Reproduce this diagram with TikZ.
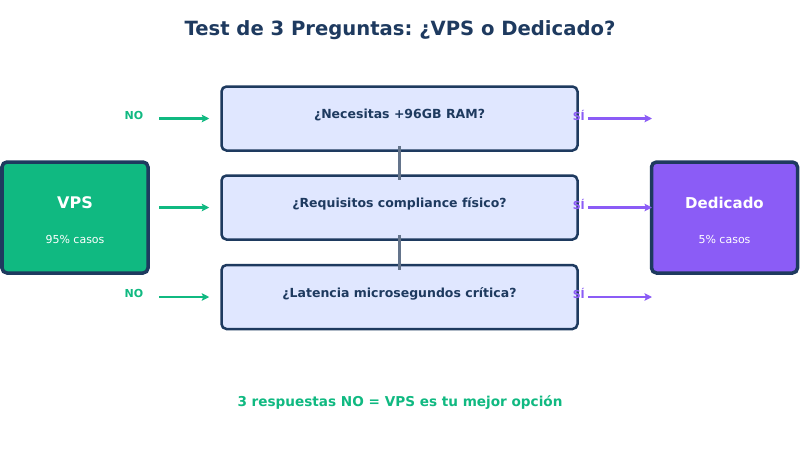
\documentclass[tikz,border=0pt]{standalone}
\usepackage{fontspec}
\setmainfont{DejaVu Sans}
\usetikzlibrary{arrows.meta}
\definecolor{navy}{HTML}{1E3A5F}
\definecolor{qfill}{HTML}{E0E7FF}
\definecolor{vpsgreen}{HTML}{10B981}
\definecolor{dedpurple}{HTML}{8B5CF6}
\definecolor{linkgray}{HTML}{64748B}
\frenchspacing

\begin{document}
\begin{tikzpicture}[x=1pt,y=-1pt,
  qbox/.style={draw=navy,line width=2.5pt,rounded corners=5pt,fill=qfill,minimum width=356pt,minimum height=64pt,inner sep=0pt},
  qtext/.style={font=\fontsize{12.5}{15}\selectfont\bfseries,text=navy,inner sep=0pt},
  endbox/.style={draw=navy,line width=3.5pt,rounded corners=5pt,minimum width=146pt,minimum height=111pt,inner sep=0pt},
  bigtext/.style={font=\fontsize{16}{19}\selectfont\bfseries,text=white,inner sep=0pt},
  smalltext/.style={font=\fontsize{11}{13}\selectfont,text=white,inner sep=0pt},
  ans/.style={font=\fontsize{11}{13}\selectfont\bfseries,inner sep=0pt},
  noarrow/.style={-{Stealth[length=7.5pt,width=7.5pt,inset=1.5pt]},line width=2.2pt,draw=vpsgreen},
  siarrow/.style={-{Stealth[length=7.5pt,width=7.5pt,inset=1.5pt]},line width=2.2pt,draw=dedpurple},
  link/.style={line width=2.2pt,draw=linkgray}]
  \useasboundingbox[fill=white] (0,0) rectangle (800,450);
  \node[font=\fontsize{19.6}{23}\selectfont\bfseries,text=navy] (title) at (400,30) {Test de 3 Preguntas: ¿VPS o Dedicado?};
  % outcomes
  \node[endbox,fill=vpsgreen] (vps) at (75,217.5) {};
  \node[bigtext] (vpst) at (75,203) {VPS};
  \node[smalltext] (vpss) at (75,239) {95\% casos};
  \node[endbox,fill=dedpurple] (ded) at (724.5,217.5) {};
  \node[bigtext,font=\fontsize{15}{18}\selectfont\bfseries] (dedt) at (724.5,203) {Dedicado};
  \node[smalltext] (deds) at (724.5,239) {5\% casos};
  % questions
  \foreach \i/\y/\t in {1/118.5/{¿Necesitas +96GB RAM?},2/207.5/{¿Requisitos compliance físico?},3/297/{¿Latencia microsegundos crítica?}} {
    \node[qbox] (q\i) at (399.5,\y) {};
    \node[qtext] (qt\i) at ([yshift=3.5pt]q\i.center) {\t};
    \coordinate (nos\i) at (159,\y);
    \coordinate (sie\i) at (652,\y);
    \draw[noarrow] (nos\i) -- (q\i.west) [shorten >=11pt];
    \draw[siarrow] (q\i.east) [shorten <=9pt] -- (sie\i);
    \node[ans,text=dedpurple] (si\i) at ([yshift=3.5pt]q\i.east) {SÍ};
  }
  \foreach \i in {1,3} { \node[ans,text=vpsgreen] (no\i) at ([yshift=3.5pt]nos\i-|134,0) {NO}; }
  % links
  \draw[link] ([yshift=6pt]q1.south) -- ([yshift=-6pt]q2.north);
  \draw[link] ([yshift=6pt]q2.south) -- ([yshift=-6pt]q3.north);
  \node[font=\fontsize{13.6}{16}\selectfont\bfseries,text=vpsgreen] (verdict) at (400,403) {3 respuestas NO = VPS es tu mejor opción};
\end{tikzpicture}
\end{document}
